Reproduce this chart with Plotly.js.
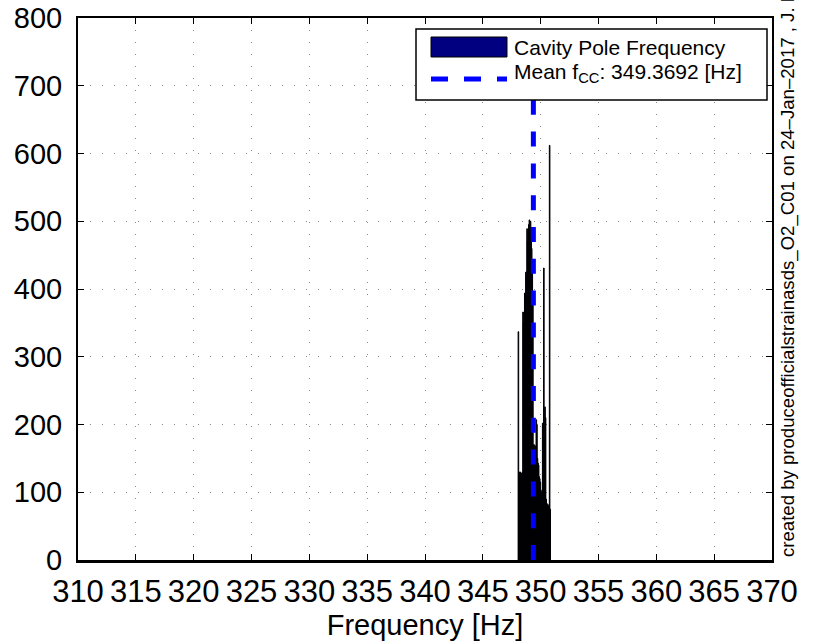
<!DOCTYPE html>
<html>
<head>
<meta charset="utf-8">
<script src="https://cdn.plot.ly/plotly-3.0.1.min.js"></script>
<style>html,body{margin:0;padding:0;background:#fff;}#chart{width:816px;height:642px;}</style>
</head>
<body>
<div id="chart"></div>
<script>
// Histogram bin centers (Hz)
const binCenters = [
  348.075, 348.125, 348.175, 348.225, 348.275, 348.325, 348.375, 348.425, 348.475, 348.525,
  348.575, 348.625, 348.675, 348.725, 348.775, 348.825, 348.875, 348.925, 348.975, 349.025,
  349.075, 349.125, 349.175, 349.225, 349.275, 349.325, 349.375, 349.425, 349.475, 349.525,
  349.575, 349.625, 349.675, 349.725, 349.775, 349.825, 349.875, 349.925, 349.975, 350.025,
  350.075, 350.125, 350.175, 350.225, 350.275, 350.325, 350.375, 350.425, 350.475, 350.525,
  350.575, 350.625, 350.675, 350.725, 350.775, 350.825
];
// Counts per bin
const binCounts = [
  337, 130, 125, 130, 110, 128, 120, 130, 366, 350,
  366, 394, 390, 425, 420, 489, 470, 485, 495, 502,
  480, 500, 475, 460, 440, 376, 170, 165, 170, 160,
  168, 207, 200, 150, 143, 140, 123, 120, 115, 103,
  100, 95, 202, 195, 431, 180, 226, 210, 90, 84,
  80, 82, 78, 80, 612, 75
];
const binWidth = 0.05;
const meanFcc = 349.3692;
const meanLineY = [0, 700];
const xTickVals = [310, 315, 320, 325, 330, 335, 340, 345, 350, 355, 360, 365, 370];
const yTickVals = [0, 100, 200, 300, 400, 500, 600, 700, 800];
const seriesName = 'Cavity Pole Frequency';
const meanLabel = 'Mean f<sub>CC</sub>: ' + meanFcc.toFixed(4) + ' [Hz]';
const footerText = 'created by produceofficialstrainasds_O2_C01 on 24–Jan–2017 , J. Kissel';

const FONT = '"Liberation Sans", Arial, Helvetica, sans-serif';

const traces = [
  {
    type: 'bar',
    x: binCenters,
    y: binCounts,
    width: binWidth,
    name: seriesName,
    marker: {color: '#000080', line: {color: '#000000', width: 1}},
    showlegend: false,
    hoverinfo: 'skip'
  },
  {
    type: 'scatter',
    mode: 'lines',
    x: [meanFcc, meanFcc],
    y: meanLineY,
    line: {color: '#0000ff', width: 5, dash: '15px,16.8px'},
    showlegend: false,
    hoverinfo: 'skip'
  }
];

// Manual legend placed in pixel-like paper coords
const W = 816, H = 642, L = 78, R = 44, T = 18, B = 82;
const pw = W - L - R, ph = H - T - B;
function px(x) { return (x - L) / pw; }
function py(y) { return 1 - (y - T) / ph; }

const layout = {
  width: W, height: H,
  margin: {l: L, r: R, t: T, b: B, pad: 0},
  paper_bgcolor: '#ffffff',
  plot_bgcolor: '#ffffff',
  font: {family: FONT, color: '#000000'},
  showlegend: false,
  bargap: 0,
  xaxis: {
    range: [310, 370],
    tickvals: xTickVals,
    ticktext: xTickVals.map(String),
    tickangle: 0,
    ticks: 'inside', ticklen: 6, tickwidth: 1, tickcolor: '#000',
    showline: true, linecolor: '#000', linewidth: 2.5, mirror: 'ticks',
    showgrid: true, gridcolor: '#8c8c8c', gridwidth: 1, griddash: '1px,11px',
    zeroline: false,
    tickfont: {family: FONT, size: 31, color: '#000'},
    ticklabelstandoff: 2,
    title: {text: 'Frequency [Hz]', font: {family: FONT, size: 29, color: '#000'}, standoff: 4}
  },
  yaxis: {
    range: [0, 800],
    tickvals: yTickVals,
    ticktext: yTickVals.map(String),
    ticks: 'inside', ticklen: 6, tickwidth: 1, tickcolor: '#000',
    showline: true, linecolor: '#000', linewidth: 2, mirror: 'ticks',
    showgrid: true, gridcolor: '#8c8c8c', gridwidth: 1, griddash: '1px,11px',
    zeroline: false,
    tickfont: {family: FONT, size: 29, color: '#000'},
    ticklabelstandoff: 8
  },
  shapes: [
    {type: 'rect', xref: 'paper', yref: 'paper', x0: px(416), x1: px(767), y0: py(100), y1: py(29),
     fillcolor: '#ffffff', line: {color: '#000', width: 1.5}, layer: 'above'},
    {type: 'rect', xref: 'paper', yref: 'paper', x0: px(431), x1: px(507), y0: py(57), y1: py(37),
     fillcolor: '#000080', line: {color: '#000', width: 1}, layer: 'above'},
    {type: 'line', xref: 'paper', yref: 'paper', x0: px(431), x1: px(507), y0: py(79), y1: py(79),
     line: {color: '#0000ff', width: 5, dash: '17px,16px'}, layer: 'above'}
  ],
  annotations: [
    {xref: 'paper', yref: 'paper', x: px(512), y: py(47), xanchor: 'left', yanchor: 'middle',
     text: seriesName, showarrow: false, font: {family: FONT, size: 21, color: '#000'}},
    {xref: 'paper', yref: 'paper', x: px(512), y: py(73), xanchor: 'left', yanchor: 'middle',
     text: meanLabel, showarrow: false, font: {family: FONT, size: 21, color: '#000'}},
    {xref: 'paper', yref: 'paper', x: px(775), y: py(559), xanchor: 'left', yanchor: 'bottom',
     text: footerText, textangle: -90, showarrow: false, font: {family: FONT, size: 18.6, color: '#000'}}
  ]
};

Plotly.newPlot('chart', traces, layout, {staticPlot: true, displayModeBar: false});
</script>
</body>
</html>
